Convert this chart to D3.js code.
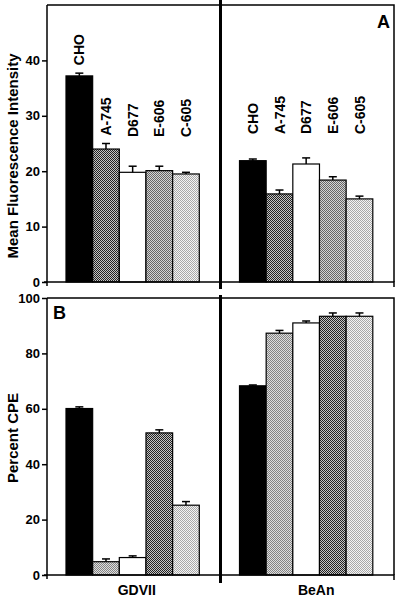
<!DOCTYPE html>
<html><head><meta charset="utf-8">
<script src="https://cdn.jsdelivr.net/npm/d3@7"></script>
<style>body{margin:0;background:#fff}svg{display:block}text{font-family:"Liberation Sans",Arial,sans-serif;font-weight:bold;fill:#000}</style>
</head><body>
<svg id="c" width="400" height="600"></svg>
<script>
const strains = ["CHO","A-745","D677","E-606","C-605"];
const viruses = ["GDVII","BeAn"];
const mfiGDVII = [37.2, 24.0, 19.8, 20.1, 19.5];
const mfiGDVIIErr = [0.5, 1.0, 1.1, 0.8, 0.3];
const mfiBeAn = [21.9, 15.9, 21.3, 18.4, 15.0];
const mfiBeAnErr = [0.3, 0.7, 1.1, 0.6, 0.5];
const cpeGDVII = [60.1, 4.8, 6.3, 51.3, 25.2];
const cpeGDVIIErr = [0.6, 1.0, 0.6, 1.1, 1.3];
const cpeBeAn = [68.3, 87.3, 91.0, 93.4, 93.4];
const cpeBeAnErr = [0.3, 1.0, 0.7, 1.2, 1.2];
const ticksA = [0,10,20,30,40];
const ticksB = [0,20,40,60,80,100];
const titleA = "Mean Fluorescence Intensity";
const titleB = "Percent CPE";

const svg = d3.select("#c");
const defs = svg.append("defs");
const pats = {dark:["#222","#c4c4c4"], med:["#666","#d4d4d4"], medlight:["#848484","#dedede"], light:["#a8a8a8","#f4f4f4"]};
Object.entries(pats).forEach(([k,[c1,c2]])=>{
  const p = defs.append("pattern").attr("id","p-"+k).attr("patternUnits","userSpaceOnUse").attr("width",2).attr("height",2);
  p.append("rect").attr("width",2).attr("height",2).attr("fill",c2);
  p.append("rect").attr("x",0).attr("y",0).attr("width",1).attr("height",1).attr("fill",c1);
  p.append("rect").attr("x",1).attr("y",1).attr("width",1).attr("height",1).attr("fill",c1);
});
const fillsA = ["#000","url(#p-dark)","#fff","url(#p-med)","url(#p-light)"];
const fillsB = ["#000","url(#p-medlight)","#fff","url(#p-dark)","url(#p-light)"];

const left = 47, right = 394;
const xg = d3.scaleBand().domain(viruses).range([left, right]);
const xb = d3.scaleBand().domain(strains).range([19, 19 + 133.3]);
const divX = xg("BeAn");

function panel(top, bottom, domainMax, ticks, data, errs, fills, title, titleY, letter, letterPos, labels, divSpan){
  const y = d3.scaleLinear().domain([0, domainMax]).range([bottom, top]);
  const g = svg.append("g");
  viruses.forEach((v,vi)=>{
    strains.forEach((s,si)=>{
      const x0 = xg(v) + xb(s), w = xb.bandwidth(), val = data[vi][si], e = errs[vi][si];
      g.append("rect").attr("x",x0).attr("y",y(val)).attr("width",w).attr("height",y(0)-y(val))
        .attr("fill",fills[si]).attr("stroke","#000").attr("stroke-width",1.2);
      const cx = x0 + w/2;
      g.append("line").attr("x1",cx).attr("x2",cx).attr("y1",y(val)).attr("y2",y(val+e)).attr("stroke","#000").attr("stroke-width",1.5);
      g.append("line").attr("x1",cx-4).attr("x2",cx+4).attr("y1",y(val+e)).attr("y2",y(val+e)).attr("stroke","#000").attr("stroke-width",1.5);
      if(labels){
        const ly = Math.min(v==="GDVII"?137:134, y(val+e)-8);
        g.append("text").attr("transform",`translate(${cx},${ly}) rotate(-90)`).attr("dy","0.36em")
          .attr("font-size",14).text(s);
      }
    });
  });
  g.append("path").attr("d",`M${left},${top}H${right}V${bottom}`).attr("fill","none").attr("stroke","#000").attr("stroke-width",1.5);
  g.append("path").attr("d",`M${left-3},${bottom}H${right}V${bottom+5}`).attr("fill","none").attr("stroke","#000").attr("stroke-width",1.5);
  const ax = g.append("g").attr("transform",`translate(${left},0)`).call(d3.axisLeft(y).tickValues(ticks).tickSize(5).tickPadding(2).tickSizeOuter(0));
  ax.select(".domain").remove();
  g.append("line").attr("x1",left).attr("x2",left).attr("y1",top).attr("y2",bottom+4).attr("stroke","#000").attr("stroke-width",1.5);
  ax.selectAll(".tick line").attr("stroke-width",1.5);
  ax.selectAll(".tick text").attr("font-size",13).attr("font-family","Liberation Sans, Arial, sans-serif").attr("font-weight","bold");
  g.append("text").attr("transform",`translate(13,${titleY}) rotate(-90)`).attr("text-anchor","middle").attr("dy","0.36em").attr("font-size",15).text(title);
  g.append("text").attr("x",letterPos[0]).attr("y",letterPos[1]).attr("text-anchor",letterPos[2]).attr("font-size",18).text(letter);
  svg.append("line").attr("x1",divX).attr("x2",divX).attr("y1",divSpan[0]).attr("y2",divSpan[1]).attr("stroke","#000").attr("stroke-width",3);
  return y;
}

panel(5, 282, 50, ticksA, [mfiGDVII, mfiBeAn], [mfiGDVIIErr, mfiBeAnErr], fillsA, titleA, 156, "A", [390, 28, "end"], true, [0, 289]);
panel(298, 575, 100, ticksB, [cpeGDVII, cpeBeAn], [cpeGDVIIErr, cpeBeAnErr], fillsB, titleB, 438, "B", [53, 319, "start"], false, [295, 583]);

const labelShift = {GDVII: 3, BeAn: 9};
svg.selectAll(".vlab").data(viruses).join("text").attr("class","vlab")
  .attr("x", d => xg(d) + xg.bandwidth()/2 + labelShift[d]).attr("y",595)
  .attr("text-anchor","middle").attr("font-size",14).text(d=>d);
</script>
</body></html>
